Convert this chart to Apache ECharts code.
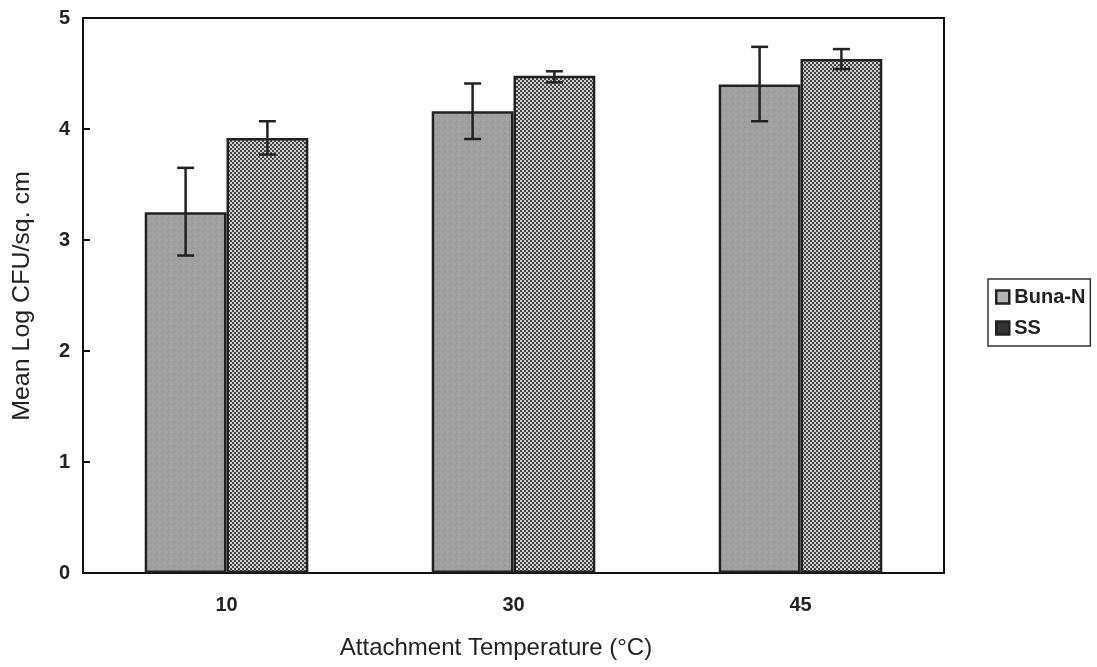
<!DOCTYPE html>
<html><head><meta charset="utf-8">
<script src="https://cdn.jsdelivr.net/npm/echarts@6/dist/echarts.min.js"></script>
<style>html,body{margin:0;padding:0;background:#fff;overflow:hidden}#c{width:100vw;height:100vh}</style>
</head><body><div id="c"></div>
<script>
var categories = ['10', '30', '45'];
var bunaN = [3.25, 4.16, 4.40];
var bunaNErrLow = [2.86, 3.91, 4.07];
var bunaNErrHigh = [3.65, 4.41, 4.74];
var ss = [3.92, 4.48, 4.63];
var ssErrLow = [3.77, 4.42, 4.54];
var ssErrHigh = [4.07, 4.52, 4.72];
var yTicks = [0, 1, 2, 3, 4, 5];
var xTitle = 'Attachment Temperature (°C)';
var yTitle = 'Mean Log CFU/sq. cm';

function makePattern(){
  var c = document.createElement('canvas'); c.width = 4; c.height = 4;
  var g = c.getContext('2d');
  g.fillStyle = '#444'; g.fillRect(0,0,4,4);
  g.fillStyle = '#cfcfcf';
  g.fillRect(0,0,2,2); g.fillRect(2,2,2,2);
  return c;
}
function makeNoise(){
  var c = document.createElement('canvas'); c.width = 6; c.height = 6;
  var g = c.getContext('2d');
  g.fillStyle = '#a0a0a0'; g.fillRect(0,0,6,6);
  var pts = [[0,1,'#929292'],[3,0,'#acacac'],[5,3,'#949494'],[2,4,'#aaaaaa'],[1,2,'#999'],[4,5,'#a6a6a6']];
  pts.forEach(function(p){ g.fillStyle = p[2]; g.fillRect(p[0],p[1],1,1); });
  return c;
}
var ssFill = {image: makePattern(), repeat: 'repeat'};
var bnFill = {image: makeNoise(), repeat: 'repeat'};

var BAR_FRAC = 0.57;
function errSeries(name, low, high, side){
  return {
    type: 'custom', name: name + ' err', silent: true, z: 10,
    data: categories.map(function(c, i){ return [i, low[i], high[i]]; }),
    renderItem: function(params, api){
      var i = api.value(0);
      var catW = api.size([1, 0])[0];
      var bw = catW * BAR_FRAC / 2;
      var p1 = api.coord([i, api.value(1)]);
      var p2 = api.coord([i, api.value(2)]);
      var x = p1[0] + side * bw / 2;
      var cap = 8.5;
      var st = {stroke: '#222', lineWidth: 2.5};
      return {type: 'group', children: [
        {type: 'line', shape: {x1: x, y1: p1[1], x2: x, y2: p2[1]}, style: st},
        {type: 'line', shape: {x1: x - cap, y1: p1[1], x2: x + cap, y2: p1[1]}, style: st},
        {type: 'line', shape: {x1: x - cap, y1: p2[1], x2: x + cap, y2: p2[1]}, style: st}
      ]};
    }
  };
}

var chart = echarts.init(document.getElementById('c'));
var font = 'Liberation Sans, Arial, sans-serif';
chart.setOption({
  animation: false,
  backgroundColor: '#fff',
  grid: {left: 83, width: 861, top: 18, height: 555, show: true, borderColor: '#111', borderWidth: 2, backgroundColor: 'transparent'},
  legend: {
    orient: 'vertical', left: 988, top: 279,
    data: [
      {name: 'Buna-N', icon: 'rect', itemStyle: {color: '#b4b4b4', borderColor: '#222', borderWidth: 2.5}},
      {name: 'SS', icon: 'rect', itemStyle: {color: '#333', borderColor: '#222', borderWidth: 2.5}}
    ],
    itemWidth: 13, itemHeight: 13, itemGap: 11,
    padding: [8, 5, 8, 7],
    borderColor: '#333', borderWidth: 1.5,
    textStyle: {fontFamily: font, fontSize: 20, fontWeight: 'bold', color: '#222', padding: [0, 0, 0, 0]}
  },
  graphic: [
    {type: 'text', x: 496, y: 648, style: {text: xTitle, font: '24px ' + font, fill: '#222', align: 'center', verticalAlign: 'middle'}},
    {type: 'text', x: 22, y: 296, rotation: Math.PI / 2, scaleX: 1.04, style: {text: yTitle, font: '24px ' + font, fill: '#222', align: 'center', verticalAlign: 'middle'}}
  ],
  xAxis: {
    type: 'category', data: categories,
    axisLine: {lineStyle: {color: '#111', width: 2}},
    axisTick: {inside: true, length: 7, lineStyle: {color: '#111', width: 2}},
    axisLabel: {fontFamily: font, fontSize: 20, fontWeight: 'bold', color: '#222', margin: 22}
  },
  yAxis: {
    type: 'value', min: 0, max: 5, interval: 1,
    axisLine: {show: true, lineStyle: {color: '#111', width: 2}},
    axisTick: {show: true, inside: true, length: 7, lineStyle: {color: '#111', width: 2}},
    splitLine: {show: false},
    axisLabel: {fontFamily: font, fontSize: 20, fontWeight: 'bold', color: '#222', margin: 13,
      formatter: function(v){ return yTicks.indexOf(v) >= 0 ? String(v) : ''; }}
  },
  series: [
    {name: 'Buna-N', type: 'bar', data: bunaN, barGap: '0%', barCategoryGap: '43%',
     itemStyle: {color: bnFill, borderColor: '#222', borderWidth: 2.5}},
    {name: 'SS', type: 'bar', data: ss, barGap: '0%', barCategoryGap: '43%',
     itemStyle: {color: ssFill, borderColor: '#222', borderWidth: 2.5}},
    errSeries('Buna-N', bunaNErrLow, bunaNErrHigh, -1),
    errSeries('SS', ssErrLow, ssErrHigh, 1)
  ]
});
</script></body></html>
